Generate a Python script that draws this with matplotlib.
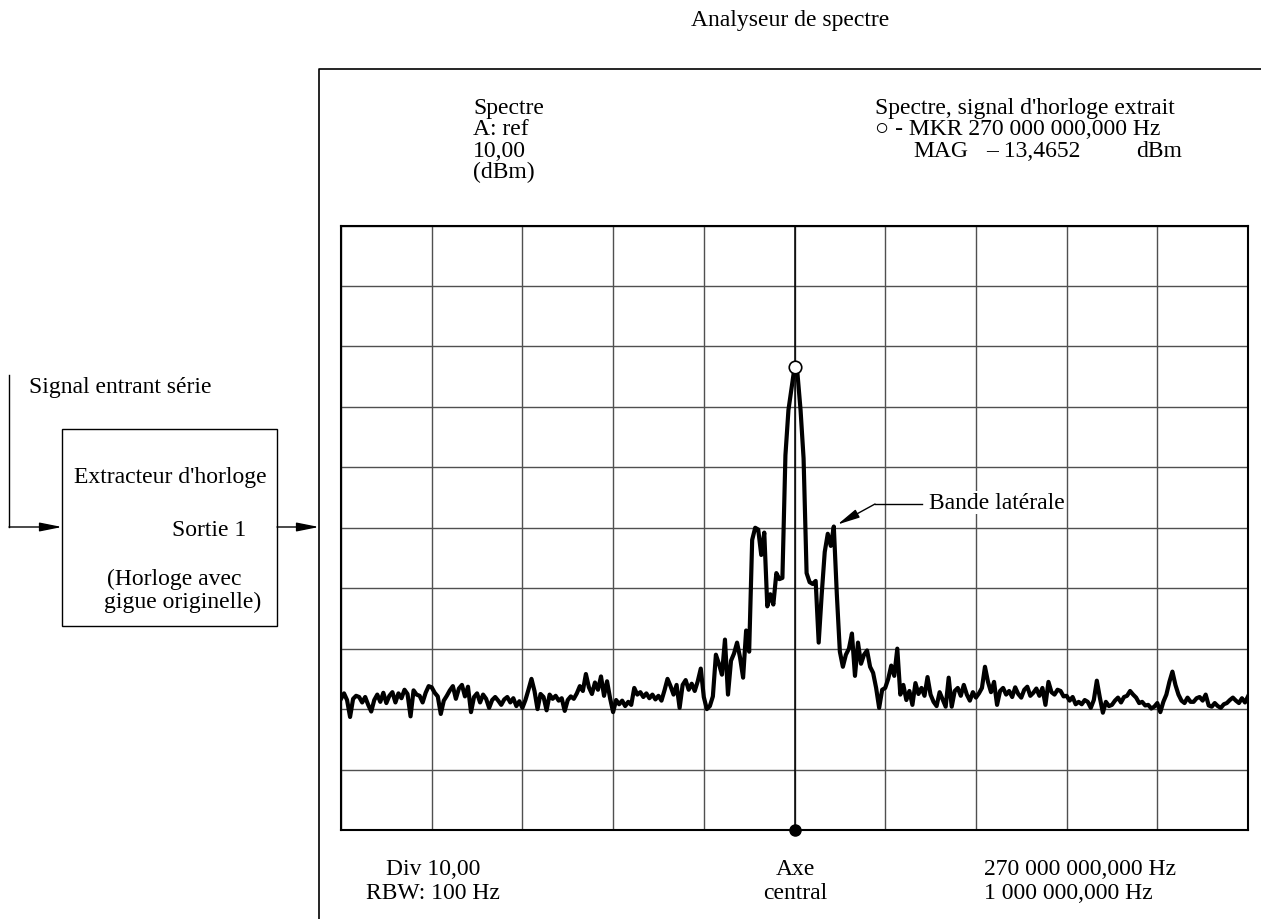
import numpy as np
import matplotlib
matplotlib.use("Agg")
import matplotlib.pyplot as plt
from matplotlib.patches import Rectangle

plt.rcParams['font.family'] = ['Liberation Serif', 'DejaVu Sans']

# réglages de l'analyseur
ref_level_dbm = 10.0      # haut de l'écran
db_per_div = 10.0
n_div = 10
span_khz = 1000.0         # 1 000 000,000 Hz autour de 270 MHz
marker_mag_dbm = -13.4652

level_dbm = [
    # div 0
    -68.3, -67.4, -68.5, -71.3, -68.3, -67.8, -68.0, -68.9, -68.0, -69.3,
    -70.4, -68.5, -67.6, -68.8, -67.3, -69.0, -67.8, -67.2, -68.9, -67.4,
    -68.2, -66.8, -67.5, -71.2, -66.9, -67.6, -67.8, -68.9, -67.3, -66.2,
    # div 1
    -66.4, -67.3, -67.9, -70.8, -68.6, -67.8, -66.9, -66.2, -68.3, -66.6,
    -66.0, -67.9, -66.3, -70.5, -68.0, -67.4, -68.9, -67.6, -68.3, -69.8,
    -68.5, -68.0, -68.6, -69.3, -68.4, -68.0, -68.9, -68.2, -69.5, -68.7,
    # div 2
    -69.8, -68.5, -66.8, -65.0, -67.0, -70.0, -67.5, -68.0, -70.2, -67.6,
    -68.3, -67.8, -68.6, -68.2, -70.3, -68.5, -67.9, -68.3, -67.4, -66.2,
    -67.0, -64.2, -66.4, -67.5, -65.6, -66.8, -64.6, -67.8, -65.4, -68.2,
    # div 3
    -70.5, -68.5, -69.2, -68.6, -69.5, -68.8, -69.3, -66.5, -67.6, -67.2,
    -68.0, -67.4, -68.2, -67.6, -68.4, -67.8, -68.6, -66.9, -65.0, -66.2,
    -67.6, -66.0, -69.8, -66.0, -65.2, -66.8, -65.8, -67.0, -65.4, -63.3,
    # div 4
    -68.0, -70.0, -69.5, -67.9, -61.0, -62.5, -64.3, -58.5, -67.6, -62.0,
    -60.8, -59.0, -61.5, -64.8, -57.0, -60.5, -42.0, -40.0, -40.3, -44.5,
    -40.8, -53.0, -51.0, -52.7, -47.5, -48.5, -48.3, -28.0, -20.5, -17.0,
    # div 5
    -13.5, -14.6, -20.5, -28.5, -47.5, -49.0, -49.3, -48.8, -59.0, -51.0,
    -44.0, -41.0, -43.0, -39.8, -51.0, -60.5, -63.0, -61.0, -60.0, -57.5,
    -64.5, -59.0, -62.5, -61.0, -60.3, -63.0, -64.0, -66.5, -69.8, -66.8,
    # div 6
    -66.5, -65.0, -62.8, -64.5, -60.0, -67.6, -66.0, -68.5, -67.0, -69.3,
    -65.7, -67.5, -66.5, -67.8, -64.7, -67.6, -68.8, -69.5, -67.2, -68.4,
    -69.6, -64.8, -69.6, -67.0, -66.5, -67.8, -66.0, -67.6, -68.6, -67.2,
    # div 7
    -68.1, -67.4, -66.5, -63.0, -65.5, -67.2, -65.5, -69.3, -67.0, -66.5,
    -67.6, -67.0, -68.0, -66.4, -67.5, -68.1, -66.8, -66.3, -67.8, -67.3,
    -66.6, -67.8, -66.5, -69.3, -65.5, -67.2, -67.6, -66.8, -67.0, -67.9,
    # div 8
    -67.8, -68.6, -68.0, -69.2, -68.8, -69.2, -68.5, -68.8, -69.8, -68.5,
    -65.3, -68.1, -70.6, -68.8, -69.5, -69.3, -68.6, -68.1, -68.9, -68.0,
    -67.8, -67.0, -67.6, -68.1, -69.0, -68.8, -69.4, -69.3, -69.9, -69.6,
    # div 9
    -69.0, -70.5, -68.8, -67.6, -65.5, -63.8, -66.0, -67.6, -68.6, -69.0,
    -68.1, -68.8, -68.8, -68.2, -68.0, -68.6, -67.6, -69.4, -69.6, -69.0,
    -69.5, -69.8, -69.2, -69.0, -68.5, -68.1, -68.6, -69.0, -68.2, -68.9,
    -67.9,
]

top_left_lines = ['Spectre', 'A: ref', '10,00', '(dBm)']
marker_lines = ["Spectre, signal d'horloge extrait", '○ - MKR 270 000 000,000 Hz']
bottom_left_lines = ['Div 10,00', 'RBW: 100 Hz']
bottom_mid_lines = ['Axe', 'central']
bottom_right_lines = ['270 000 000,000 Hz', '1 000 000,000 Hz']

freq_khz = np.linspace(-span_khz / 2, span_khz / 2, len(level_dbm))
level = np.array(level_dbm)
bottom_dbm = ref_level_dbm - n_div * db_per_div

FS = 17
W, H = 1261, 920
fig = plt.figure(figsize=(W / 100, H / 100), dpi=100)

# fond en coordonnées pixel pour le schéma et les textes
bg = fig.add_axes([0, 0, 1, 1])
bg.set_xlim(0, W)
bg.set_ylim(H, 0)
bg.axis('off')

# cadre de l'analyseur
bg.plot([319, 319, W], [H, 70, 70], color='k', lw=1.2)
bg.text(790, 26, 'Analyseur de spectre', ha='center', va='baseline', fontsize=FS)

for i, s in enumerate(top_left_lines):
    bg.text(473, 114 + i * 21.3, s, ha='left', va='baseline', fontsize=FS)
for i, s in enumerate(marker_lines):
    bg.text(875, 114 + i * 21.3, s, ha='left', va='baseline', fontsize=FS)
bg.text(913, 157, 'MAG', ha='left', va='baseline', fontsize=FS)
bg.text(986, 157, '– ' + f'{abs(marker_mag_dbm):.4f}'.replace('.', ','),
        ha='left', va='baseline', fontsize=FS)
bg.text(1136, 157, 'dBm', ha='left', va='baseline', fontsize=FS)

for i, s in enumerate(bottom_left_lines):
    bg.text(433, 875 + i * 24, s, ha='center', va='baseline', fontsize=FS)
for i, s in enumerate(bottom_mid_lines):
    bg.text(795, 875 + i * 24, s, ha='center', va='baseline', fontsize=FS)
for i, s in enumerate(bottom_right_lines):
    bg.text(984, 875 + i * 24, s, ha='left', va='baseline', fontsize=FS)

# extracteur d'horloge
arrow = dict(arrowstyle='-|>,head_length=0.8,head_width=0.16', color='k', lw=1,
             mutation_scale=FS, shrinkA=0, shrinkB=0)
bg.add_patch(Rectangle((62, 430), 215, 197, fill=False, ec='k', lw=1))
bg.plot([9, 9], [376, 528], color='k', lw=1)
bg.annotate('', xy=(62, 528), xytext=(9, 528), arrowprops=arrow)
bg.annotate('', xy=(319, 528), xytext=(277, 528), arrowprops=arrow)
bg.text(29, 393, 'Signal entrant série', ha='left', va='baseline', fontsize=FS)
bg.text(74, 483, "Extracteur d'horloge", ha='left', va='baseline', fontsize=FS)
bg.text(172, 536, 'Sortie 1', ha='left', va='baseline', fontsize=FS)
bg.text(107, 585, '(Horloge avec', ha='left', va='baseline', fontsize=FS)
bg.text(104, 608, 'gigue originelle)', ha='left', va='baseline', fontsize=FS)

# écran du spectre
ax = fig.add_axes([341 / W, (H - 831) / H, 907 / W, 604.5 / H])
ax.set_zorder(2)
ax.set_xlim(-span_khz / 2, span_khz / 2)
ax.set_ylim(bottom_dbm, ref_level_dbm)
ax.set_xticks(np.linspace(-span_khz / 2, span_khz / 2, n_div + 1))
ax.set_yticks(np.linspace(bottom_dbm, ref_level_dbm, n_div + 1))
ax.tick_params(length=0, labelbottom=False, labelleft=False)
ax.grid(color='#505050', lw=1.0)
for sp in ax.spines.values():
    sp.set_linewidth(1.5)
ax.axvline(0, color='k', lw=1.1, zorder=2)

ax.plot(freq_khz, level, color='k', lw=3.0, zorder=3)
ax.plot(0, marker_mag_dbm, 'o', mfc='white', mec='k', ms=9, mew=1.2, zorder=5)
ax.plot(0, bottom_dbm, 'o', color='k', ms=8, clip_on=False, zorder=5)

# bande latérale : maximum à droite du lobe central
side = (freq_khz > 20) & (freq_khz < 100)
sb = np.flatnonzero(side)[np.argmax(level[side])]
ax.plot([875, 922], [505, 505], transform=bg.transData, color='k', lw=1,
        clip_on=False, zorder=6)
ax.annotate('', xy=(freq_khz[sb], level[sb]), xycoords='data',
            xytext=(875, 505), textcoords=bg.transData,
            arrowprops=dict(arrow, shrinkB=3), zorder=6)
ax.text(929, 509, 'Bande latérale', transform=bg.transData, ha='left',
        va='baseline', fontsize=FS, zorder=6,
        bbox=dict(fc='white', ec='none', pad=1))

fig.savefig('out.png', dpi=100)
